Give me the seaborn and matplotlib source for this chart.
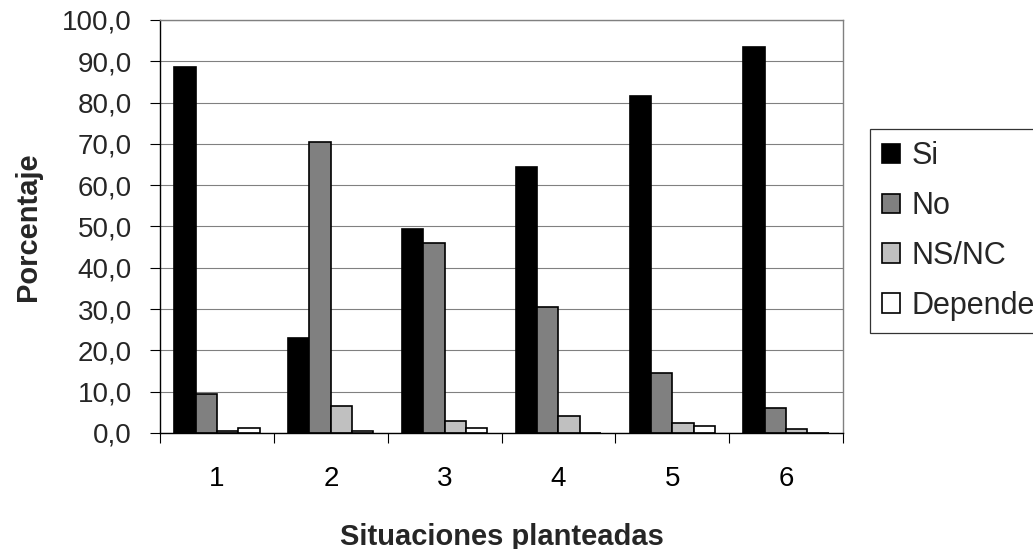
import matplotlib
matplotlib.use("Agg")
import matplotlib.pyplot as plt
from matplotlib.ticker import FixedLocator, FuncFormatter
import pandas as pd
import seaborn as sns

# Survey results by situation (percent)
situaciones = ["1", "2", "3", "4", "5", "6"]
respuestas = ["Si", "No", "NS/NC", "Depende"]
si = [88.5, 23.0, 49.5, 64.5, 81.5, 93.5]
no = [9.5, 70.5, 46.0, 30.5, 14.5, 6.0]
ns_nc = [0.5, 6.5, 3.0, 4.2, 2.5, 1.0]
depende = [1.2, 0.5, 1.2, 0.0, 1.8, 0.0]
colores = ["#000000", "#808080", "#C0C0C0", "#FFFFFF"]

series = dict(zip(respuestas, [si, no, ns_nc, depende]))
df = pd.DataFrame(
    [(s, r, series[r][i]) for r in respuestas for i, s in enumerate(situaciones)],
    columns=["Situacion", "Respuesta", "Porcentaje"],
)

sns.set_theme(style="white")
plt.rcParams["font.family"] = ["Liberation Sans", "DejaVu Sans"]

fig = plt.figure(figsize=(10.33, 5.49), dpi=100)
ax = fig.add_axes([0.155, 0.2113, 0.661, 0.7523])

sns.barplot(
    data=df, x="Situacion", y="Porcentaje", hue="Respuesta",
    order=situaciones, hue_order=respuestas,
    palette=dict(zip(respuestas, colores)),
    width=0.75, gap=0, edgecolor="black", linewidth=1.2,
    saturation=1, ax=ax, legend=True,
)

ax.set_xlim(-0.5, len(situaciones) - 0.5)
ax.set_ylim(0, 100)
ax.set_yticks(range(0, 101, 10))
ax.yaxis.set_major_formatter(FuncFormatter(lambda v, p: f"{v:.1f}".replace(".", ",")))
ax.yaxis.grid(True, color="#808080", linewidth=0.8)
ax.set_axisbelow(True)

# category labels at centers, tick marks at category boundaries
ax.xaxis.set_minor_locator(FixedLocator([i - 0.5 for i in range(len(situaciones) + 1)]))
ax.tick_params(axis="x", which="major", length=0, pad=24, labelsize=20, colors="black")
ax.tick_params(axis="x", which="minor", length=7.5, width=0.8, color="black", direction="out", bottom=True)
ax.tick_params(axis="y", which="major", length=7.5, width=0.8, color="black", direction="out",
               pad=13, labelsize=20, left=True)

for side in ("top", "right"):
    ax.spines[side].set_visible(True)
    ax.spines[side].set_color("#808080")
    ax.spines[side].set_linewidth(1.0)
for side in ("left", "bottom"):
    ax.spines[side].set_color("black")
    ax.spines[side].set_linewidth(1.0)

ax.set_xlabel("Situaciones planteadas", fontsize=21, fontweight="bold", labelpad=22)
ax.set_ylabel("Porcentaje", fontsize=21, fontweight="bold", labelpad=14)

handles, labels = ax.get_legend_handles_labels()
ax.get_legend().remove()
leg = fig.legend(
    handles, labels, loc="upper left", bbox_to_anchor=(0.842, 0.765),
    bbox_transform=fig.transFigure, fontsize=22, frameon=True, fancybox=False,
    edgecolor="black", handlelength=0.6, handleheight=0.6, handletextpad=0.36,
    labelspacing=0.65, borderpad=0.4, borderaxespad=0,
)
leg.get_frame().set_linewidth(0.9)

fig.savefig("out.png", dpi=100)
